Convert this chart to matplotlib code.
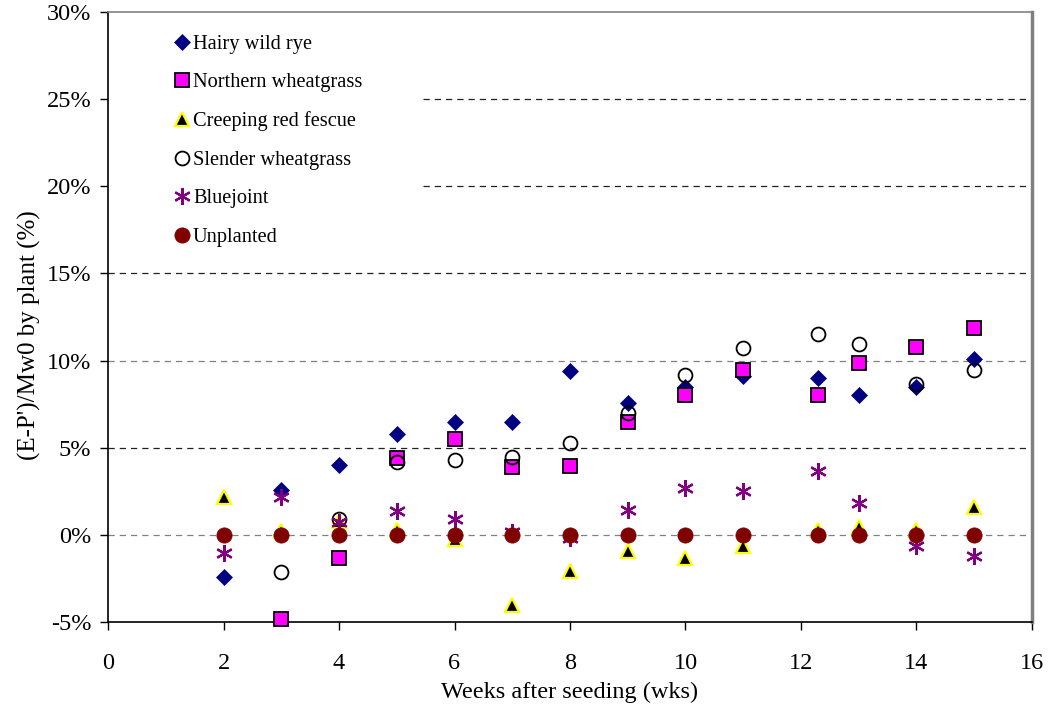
import matplotlib

matplotlib.use("Agg")
import matplotlib.pyplot as plt
from matplotlib.patches import Rectangle
from matplotlib.ticker import FuncFormatter, MultipleLocator

plt.rcParams["font.family"] = ["Liberation Serif", "DejaVu Serif"]

# weeks after seeding at which each sample was taken
weeks = [2, 3, 4, 5, 6, 7, 8, 9, 10, 11, 12.3, 13, 14, 15]

# (E-P')/Mw0 by plant, in percent
hairy_wild_rye = [-2.4, 2.6, 4.0, 5.8, 6.5, 6.5, 9.4, 7.55, 8.5, 9.1, 9.0, 8.0, 8.5, 10.1]
northern_wheat = [None, -4.8, -1.3, 4.4, 5.5, 3.9, 3.95, 6.5, 8.0, 9.45, 8.0, 9.85, 10.8, 11.85]
creeping_fescue = [2.15, 0.2, 0.8, 0.3, -0.25, -4.05, -2.1, -0.95, -1.3, -0.65, 0.3, 0.45, 0.3, 1.6]
slender_wheat = [None, -2.15, 0.9, 4.2, 4.3, 4.45, 5.25, 7.0, 9.2, 10.75, 11.55, 10.95, 8.65, 9.45]
bluejoint = [-1.05, 2.15, 0.75, 1.35, 0.9, 0.15, -0.2, 1.45, 2.7, 2.5, 3.65, 1.85, -0.65, -1.2]
unplanted = [0, 0, 0, 0, 0, 0, 0, 0, 0, 0, 0, 0, 0, 0]

series = [
    ("Hairy wild rye", hairy_wild_rye,
     dict(marker="D", ms=8.5, mfc="#000080", mec="#000080", mew=0.5)),
    ("Northern wheatgrass", northern_wheat,
     dict(marker="s", ms=10, mfc="#ff00ff", mec="black", mew=1.3)),
    ("Creeping red fescue", creeping_fescue,
     dict(marker="^", ms=10.5, mfc="black", mec="#ffff00", mew=1.6)),
    ("Slender wheatgrass", slender_wheat,
     dict(marker="o", ms=10, mfc="none", mec="black", mew=1.3)),
    ("Bluejoint", bluejoint,
     dict(marker=(6, 2, 0), ms=12, mfc="none", mec="#800080", mew=1.6)),
    ("Unplanted", unplanted,
     dict(marker="o", ms=11, mfc="#800000", mec="#800000", mew=0.5)),
]

fig = plt.figure(figsize=(10.53, 7.12), dpi=100)
ax = fig.add_axes([0.1026, 0.1264, 0.8774, 0.8567])

ax.set_xlim(0, 16)
ax.set_ylim(-5, 30)
ax.xaxis.set_major_locator(MultipleLocator(2))
ax.yaxis.set_major_locator(MultipleLocator(5))
ax.yaxis.set_major_formatter(FuncFormatter(lambda v, _: f"{v:.0f}%"))
ax.tick_params(axis="both", direction="out", length=6, width=1, labelsize=17.5,
               color="black")
ax.tick_params(axis="y", pad=6)
ax.tick_params(axis="x", pad=16)

# dashed gridlines, the top one is the frame itself
grid_colors = {0: "#808080", 5: "#202020", 10: "#808080", 15: "#202020",
               20: "#202020", 25: "#202020"}
for yv, col in grid_colors.items():
    ax.axhline(yv, color=col, ls=(0, (5, 4)), lw=0.9, zorder=1)

for side in ["left", "bottom"]:
    ax.spines[side].set_color("black")
    ax.spines[side].set_linewidth(1.2)
ax.spines["top"].set_color("#808080")
ax.spines["top"].set_linewidth(1.2)
ax.spines["right"].set_color("#808080")
ax.spines["right"].set_linewidth(2.5)

handles = []
for label, vals, style in series:
    xs = [w for w, v in zip(weeks, vals) if v is not None]
    ys = [v for v in vals if v is not None]
    (h,) = ax.plot(xs, ys, ls="none", label=label, zorder=3, clip_on=False, **style)
    handles.append(h)

# white legend area hides the upper gridlines
ax.add_patch(Rectangle((0, 0.62), 0.338, 0.38, transform=ax.transAxes,
                       facecolor="white", edgecolor="none", zorder=2))
ax.legend(handles=handles, loc="upper left", bbox_to_anchor=(0.0712, 0.963),
          frameon=False, fontsize=14.7, handlelength=0.8, handletextpad=0.14,
          labelspacing=0.94, borderaxespad=0, borderpad=0)

ax.set_xlabel("Weeks after seeding (wks)", fontsize=17.5, labelpad=6)
ax.set_ylabel("(E-P')/Mw0 by plant (%)", fontsize=18)
ax.yaxis.set_label_coords(-0.073, 0.4705)

fig.savefig("out.png", dpi=100, facecolor="white")
